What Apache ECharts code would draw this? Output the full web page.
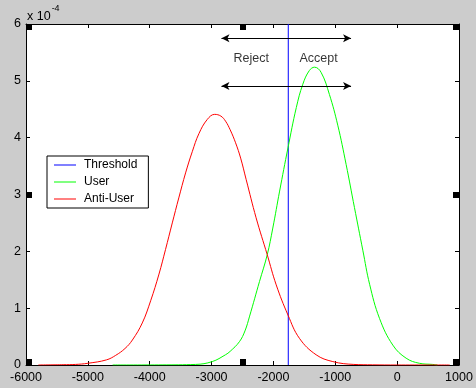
<!DOCTYPE html>
<html><head><meta charset="utf-8">
<script src="https://cdn.jsdelivr.net/npm/echarts@6/dist/echarts.min.js"></script>
<style>html,body{margin:0;padding:0;background:#cccccc;}#c{width:476px;height:388px;}</style>
</head><body><div id="c"></div>
<script>
// values in units of 1e-4
const xTicks = [-6000,-5000,-4000,-3000,-2000,-1000,0,1000];
const yTicks = [0,1,2,3,4,5,6];
const thresholdX = -1760;
const userX = [-4600,-3800,-3260,-2990,-2775,-2700,-2550,-2460,-2385,-2225,-2100,-2010,-1900,-1765,-1630,-1525,-1420,-1335,-1230,-1095,-960,-825,-690,-555,-445,-285,-70,145,360,575,650];
const userY = [0,0.002,0.01,0.06,0.18,0.24,0.41,0.60,0.86,1.47,1.94,2.41,3.06,3.82,4.53,4.94,5.18,5.24,5.15,4.76,4.22,3.53,2.77,2.02,1.42,0.82,0.35,0.12,0.03,0.01,0];
const antiX = [-5800,-5400,-5200,-5000,-4700,-4550,-4400,-4280,-4120,-3985,-3850,-3745,-3635,-3530,-3420,-3310,-3205,-3070,-2950,-2850,-2774,-2700,-2612,-2530,-2440,-2280,-2100,-1955,-1765,-1580,-1310,-1040,-700,-400,0,850];
const antiY = [0,0.005,0.01,0.03,0.09,0.17,0.29,0.44,0.74,1.13,1.60,2.03,2.50,2.94,3.38,3.76,4.07,4.32,4.41,4.38,4.29,4.14,3.91,3.64,3.26,2.59,1.94,1.41,0.88,0.47,0.18,0.06,0.01,0.003,0,0];
const arrowXs = [-2840,-745];
const arrowYs = [5.75,4.91];
const labelTexts = ['Reject','Accept'];
const labelXs = [-2360,-1270];
const labelY = 5.39;

const zip = (a,b)=>a.map((v,i)=>[v,b[i]]);
const font = 'Liberation Sans, Arial, sans-serif';
const chart = echarts.init(document.getElementById('c'),null,{renderer:'canvas'});
const axisCommon = () => ({
  axisLine:{show:true,onZero:false,lineStyle:{color:'#000',width:1}},
  axisTick:{show:true,inside:true,length:4,lineStyle:{color:'#000'}},
  splitLine:{show:false}
});
const handle = (x,y)=>({type:'rect',shape:{x:x,y:y,width:6,height:6},style:{fill:'#000'},z:100});
chart.setOption({
  animation:false,
  backgroundColor:'#cccccc',
  textStyle:{fontFamily:font},
  grid:{left:26,top:24,right:17,bottom:23,show:true,backgroundColor:'#ffffff',borderWidth:0},
  xAxis:[
    Object.assign({type:'value',min:xTicks[0],max:xTicks[xTicks.length-1],interval:1000,position:'bottom',
      axisLabel:{color:'#000',fontSize:12.5,margin:6,fontFamily:font,formatter:v=>String(v)}},axisCommon()),
    Object.assign({type:'value',min:xTicks[0],max:xTicks[xTicks.length-1],interval:1000,position:'top',
      axisLabel:{show:false}},axisCommon())
  ],
  yAxis:[
    Object.assign({type:'value',min:yTicks[0],max:yTicks[yTicks.length-1],interval:1,position:'left',
      axisLabel:{color:'#000',fontSize:12.5,margin:5,fontFamily:font,formatter:v=>String(v)}},axisCommon()),
    Object.assign({type:'value',min:yTicks[0],max:yTicks[yTicks.length-1],interval:1,position:'right',
      axisLabel:{show:false}},axisCommon())
  ],
  legend:{
    data:['Threshold','User','Anti-User'],
    orient:'vertical',left:47,top:156,
    backgroundColor:'#fff',borderColor:'#000',borderWidth:1,borderRadius:0,
    padding:[2,11,2,7],itemGap:3,itemWidth:22,itemHeight:1,icon:'rect',
    textStyle:{color:'#000',fontSize:12,lineHeight:14,fontFamily:font,padding:[0,0,0,3]}
  },
  series:[
    {name:'Threshold',type:'line',data:[[thresholdX,yTicks[0]],[thresholdX,yTicks[yTicks.length-1]]],
      showSymbol:false,symbol:'none',lineStyle:{color:'#0000ff',width:1},itemStyle:{color:'#0000ff'}},
    {name:'User',type:'line',data:zip(userX,userY),smooth:0.4,
      showSymbol:false,symbol:'none',lineStyle:{color:'#00ff00',width:1},itemStyle:{color:'#00ff00'}},
    {name:'Anti-User',type:'line',data:zip(antiX,antiY),smooth:0.4,
      showSymbol:false,symbol:'none',lineStyle:{color:'#ff0000',width:1},itemStyle:{color:'#ff0000'}},
    {name:'arrows',type:'line',data:[],silent:true,
      markLine:{silent:true,symbol:['arrow','arrow'],symbolSize:[6,8],label:{show:false},
        lineStyle:{color:'#000',width:1,type:'solid'},
        data:arrowYs.map(y=>[{coord:[arrowXs[0],y]},{coord:[arrowXs[1],y]}])}},
    {name:'labels',type:'scatter',symbolSize:0,silent:true,
      data:labelTexts.map((t,i)=>({value:[labelXs[i],labelY],name:t})),
      label:{show:true,position:'inside',formatter:p=>p.name,color:'#000',fontSize:12.5,fontFamily:font}}
  ],
  graphic:[
    {type:'text',left:27,top:4,z:100,style:{
      text:'{a|x 10}{b|-4}',
      rich:{a:{fontSize:12.5,fontFamily:font,fill:'#000',verticalAlign:'bottom',padding:[6,0,0,0]},
            b:{fontSize:9,fontFamily:font,fill:'#000',verticalAlign:'top',padding:[0,0,8,1]}}}},
    handle(26,24),handle(240,24),handle(453,24),
    handle(26,192),handle(453,192),
    handle(26,359),handle(240,359),handle(453,359)
  ]
});
</script></body></html>
